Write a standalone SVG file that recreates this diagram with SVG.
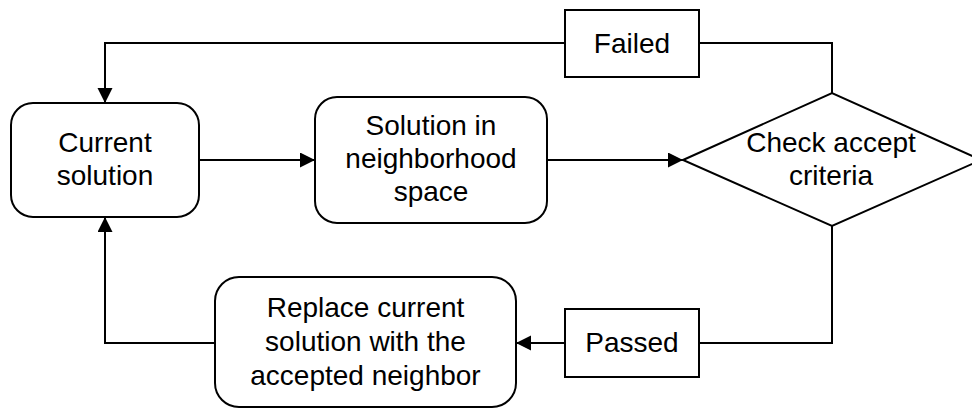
<svg xmlns="http://www.w3.org/2000/svg" width="972" height="409" viewBox="0 0 972 409">
<style>
.box{fill:#fff;stroke:#000;stroke-width:2}
.edge{fill:none;stroke:#000;stroke-width:2}
text{font-family:"Liberation Sans",Arial,sans-serif;font-size:28px;fill:#000;text-anchor:middle}
</style>
<defs>
<marker id="arr" markerUnits="userSpaceOnUse" markerWidth="16" markerHeight="16" refX="15" refY="7.5" orient="auto" viewBox="0 0 16 16">
<path d="M0,0 L15,7.5 L0,15 z" fill="#000"/>
</marker>
</defs>
<rect width="972" height="409" fill="#fff"/>
<g id="connectors">
<path class="edge" d="M832,93 V43 H699"/>
<path class="edge" d="M565,43 H105 V103" marker-end="url(#arr)"/>
<path class="edge" d="M199,160 H315" marker-end="url(#arr)"/>
<path class="edge" d="M547,160 H683" marker-end="url(#arr)"/>
<path class="edge" d="M832,226 V343 H699"/>
<path class="edge" d="M565,343 H516" marker-end="url(#arr)"/>
<path class="edge" d="M215,343 H105 V217" marker-end="url(#arr)"/>
</g>
<g id="current">
<rect class="box" x="11" y="103" width="188" height="114" rx="22"/>
<text x="105" y="152">Current</text>
<text x="105" y="185">solution</text>
</g>
<g id="neighborhood">
<rect class="box" x="315" y="97" width="232" height="126" rx="22"/>
<text x="431" y="135">Solution in</text>
<text x="431" y="168">neighborhood</text>
<text x="431" y="201">space</text>
</g>
<g id="check">
<polygon class="box" points="683,160 832,93 981,160 832,226"/>
<text x="831" y="152">Check accept</text>
<text x="831" y="185">criteria</text>
</g>
<g id="failed">
<rect class="box" x="565" y="10" width="134" height="67"/>
<text x="632" y="53">Failed</text>
</g>
<g id="passed">
<rect class="box" x="565" y="309" width="134" height="68"/>
<text x="632" y="352">Passed</text>
</g>
<g id="replace">
<rect class="box" x="215" y="277" width="301" height="130" rx="24"/>
<text x="365.5" y="317">Replace current</text>
<text x="365.5" y="351">solution with the</text>
<text x="365.5" y="385">accepted neighbor</text>
</g>
</svg>
